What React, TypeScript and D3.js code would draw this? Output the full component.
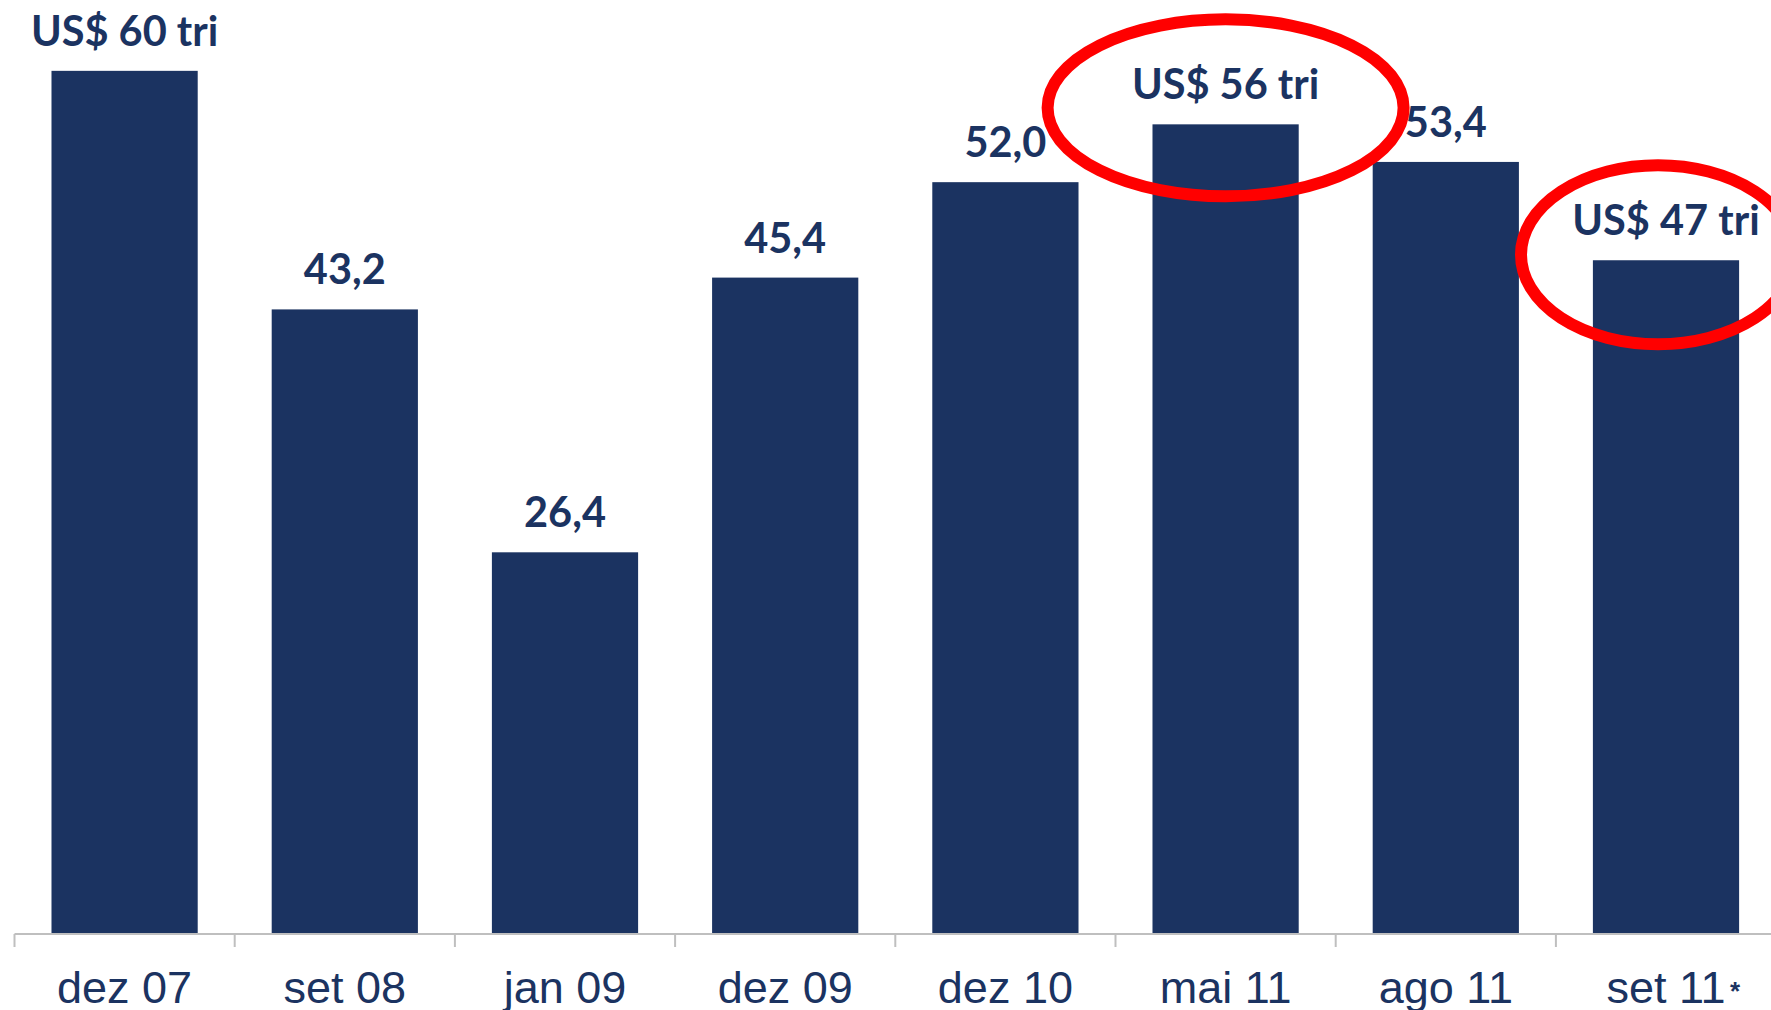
import React from 'react';
import * as d3 from 'd3';

const categories = ['dez 07', 'set 08', 'jan 09', 'dez 09', 'dez 10', 'mai 11', 'ago 11', 'set 11'];
const values = [59.7, 43.2, 26.4, 45.4, 52.0, 56.0, 53.4, 46.6];
const valueLabels = ['US$ 60 tri', '43,2', '26,4', '45,4', '52,0', 'US$ 56 tri', '53,4', 'US$ 47 tri'];
const footnoteMarks = ['', '', '', '', '', '', '', '*'];
const highlighted = ['mai 11', 'set 11'];

const W = 1771;
const H = 1010;
const NAVY = '#1b3361';

export default function App() {
  const x = d3
    .scaleBand<string>()
    .domain(categories)
    .range([14.5, 14.5 + 8 * 220.2])
    .paddingInner(0.336)
    .paddingOuter(0.168);
  const y = d3.scaleLinear().domain([0, 64.6]).range([934, 0]);
  const step = x.step();
  const bw = x.bandwidth();
  const tickXs = categories.map((c) => (x(c) as number) - (step - bw) / 2);
  tickXs.push(tickXs[tickXs.length - 1] + step);

  const ellipseGeom: Record<string, { dx: number; dy: number; rx: number; ry: number }> = {
    'mai 11': { dx: 0, dy: -16.5, rx: 178, ry: 88.5 },
    'set 11': { dx: -8, dy: -5.5, rx: 137, ry: 89.5 },
  };

  return (
    <div style={{ position: 'absolute', left: 0, top: 0 }}>
      <svg width={W} height={H} style={{ display: 'block', background: '#fff' }}>
        {categories.map((c, i) => (
          <rect
            key={c}
            x={x(c)}
            y={y(values[i])}
            width={bw}
            height={y(0) - y(values[i])}
            fill={NAVY}
          />
        ))}
        <line x1={tickXs[0]} x2={W} y1={y(0)} y2={y(0)} stroke="#bfbfbf" strokeWidth={2} />
        {tickXs.map((t, i) => (
          <line key={i} x1={t} x2={t} y1={y(0)} y2={y(0) + 13} stroke="#bfbfbf" strokeWidth={2} />
        ))}
        {categories.map((c, i) => (
          <text
            key={c}
            x={(x(c) as number) + bw / 2}
            y={y(values[i]) - 25}
            textAnchor="middle"
            fontFamily="Lato, 'Open Sans', sans-serif"
            fontWeight={700}
            fontSize={41.5}
            fill={NAVY}
          >
            {valueLabels[i]}
          </text>
        ))}
        {categories.map((c, i) => (
          <text
            key={c}
            x={(x(c) as number) + bw / 2}
            y={1003}
            textAnchor="middle"
            fontFamily="'Liberation Sans', Arial, sans-serif"
            fontSize={45}
            fill={NAVY}
          >
            {c}
          </text>
        ))}
        {categories.map((c, i) =>
          footnoteMarks[i] ? (
            <text
              key={c + '*'}
              x={(x(c) as number) + bw / 2 + 64}
              y={1000}
              fontFamily="'Liberation Sans', Arial, sans-serif"
              fontWeight={700}
              fontSize={26}
              fill={NAVY}
            >
              {footnoteMarks[i]}
            </text>
          ) : null
        )}
        {highlighted.map((c) => {
          const i = categories.indexOf(c);
          const g = ellipseGeom[c];
          return (
            <ellipse
              key={c}
              cx={(x(c) as number) + bw / 2 + g.dx}
              cy={y(values[i]) + g.dy}
              rx={g.rx}
              ry={g.ry}
              fill="none"
              stroke="#ff0000"
              strokeWidth={12}
            />
          );
        })}
      </svg>
    </div>
  );
}
